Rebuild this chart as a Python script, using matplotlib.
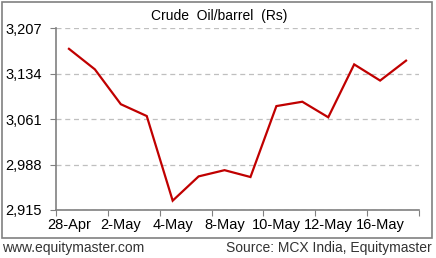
import matplotlib
matplotlib.use("Agg")
import matplotlib.pyplot as plt
from matplotlib.patches import Rectangle

dates = ["28-Apr", "30-Apr", "2-May", "3-May", "4-May", "7-May", "8-May",
         "9-May", "10-May", "11-May", "12-May", "15-May", "16-May", "17-May"]
prices = [3174, 3141, 3085, 3066, 2930, 2969, 2979,
          2968, 3082, 3089, 3064, 3149, 3123, 3155]
y_ticks = [2915, 2988, 3061, 3134, 3207]

plt.rcParams["font.family"] = ["Liberation Sans", "DejaVu Sans"]
GRAY = "#808080"

fig = plt.figure(figsize=(4.36, 2.58), dpi=100)
ax = fig.add_axes([56 / 436, 1 - 210 / 258, 363 / 436, (210 - 28.3) / 258])

x = list(range(len(prices)))
ax.plot(x, prices, color="#C00000", linewidth=1.6, solid_joinstyle="miter")

ax.set_xlim(-0.5, len(prices) - 0.5)
ax.set_ylim(y_ticks[0], y_ticks[-1])
ax.set_yticks(y_ticks)
ax.set_yticklabels([f"{v:,}" for v in y_ticks], fontsize=10.5)
ax.yaxis.grid(True, color="#BFBFBF", linestyle=(0, (4, 3)), linewidth=0.9)
ax.set_axisbelow(True)

# tick marks between every two categories, labels on every other category
ax.set_xticks([i - 0.5 for i in range(0, len(prices) + 1, 2)])
ax.set_xticklabels([])
ax.set_xticks(x[::2], minor=True)
ax.set_xticklabels(dates[::2], minor=True, fontsize=10.5)
ax.tick_params(axis="x", which="major", direction="out", length=4, color=GRAY)
ax.tick_params(axis="x", which="minor", length=0, pad=6)
ax.tick_params(axis="y", direction="out", length=4, color=GRAY, pad=6)

for s in ["top", "right"]:
    ax.spines[s].set_visible(False)
for s in ["left", "bottom"]:
    ax.spines[s].set_color(GRAY)
    ax.spines[s].set_linewidth(1.2)

fig.text(219 / 436, 1 - 16 / 258, "Crude  Oil/barrel  (Rs)", ha="center",
         va="center", fontsize=10)

fig.patches.append(Rectangle((2 / 436, 1 - 238 / 258), 430 / 436, 236 / 258,
                             transform=fig.transFigure, fill=False,
                             edgecolor=GRAY, linewidth=1.2))

fig.text(2 / 436, 1 - 248 / 258, "www.equitymaster.com", ha="left",
         va="center", fontsize=10, color="#333333")
fig.text(432 / 436, 1 - 248 / 258, "Source: MCX India, Equitymaster",
         ha="right", va="center", fontsize=10, color="#333333")

fig.savefig("out.png", dpi=100)
